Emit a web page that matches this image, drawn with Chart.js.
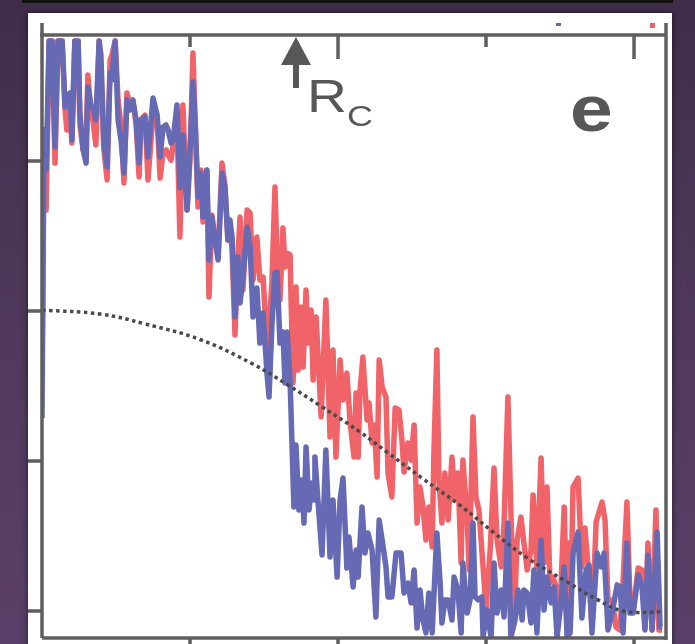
<!DOCTYPE html>
<html>
<head>
<meta charset="utf-8">
<script src="https://cdn.jsdelivr.net/npm/chart.js@4/dist/chart.umd.min.js"></script>
<style>
  html, body { margin: 0; padding: 0; }
  body {
    width: 695px; height: 644px; overflow: hidden; position: relative;
    background: linear-gradient(to bottom, #3f2d49 0%, #4d3759 40%, #5a4068 100%);
    font-family: "Liberation Sans", Arial, sans-serif;
  }
  #topbar { position: absolute; left: 22px; top: 0; width: 651px; height: 3px; background: #121212; }
  #panel {
    position: absolute; left: 28px; top: 13px; width: 644px; height: 640px;
    background: #fff; box-shadow: 0 0 6px rgba(0,0,0,0.55);
  }
  #chart { position: absolute; left: 0; top: 0; }
  .lbl { position: absolute; color: #575757; line-height: 1; white-space: nowrap;
         transform: scaleX(1.2); transform-origin: left top; }
  .mark { position: absolute; }
</style>
</head>
<body>
<div id="topbar"></div>
<div id="panel"></div>
<canvas id="chart" width="695" height="644"></canvas>
<div class="mark" style="left:556px;top:23px;width:5px;height:3px;background:#666ab4"></div>
<div class="mark" style="left:650px;top:23px;width:5px;height:5px;background:#f06268"></div>
<span class="lbl" style="left:307px;top:73px;font-size:46px">R</span>
<span class="lbl" style="left:347px;top:101px;font-size:30px">C</span>
<span class="lbl" style="left:570px;top:77px;font-size:64px;font-weight:bold">e</span>
<script>
// axis ticks (no labels in the picture)
const xTicks = [50, 100, 150, 200];
const yTicks = [0, 50, 100, 150];
const rcX = 85.8;

const redX = [0, 0.7, 1.4, 2.4, 3.4, 4.4, 5.4, 6.8, 7.8, 8.4, 9.5, 10.1, 11.1, 12.2, 12.8, 13.9, 14.9, 15.5, 16.6, 17.2,
  18.2, 19.3, 19.9, 20.9, 22.0, 23.0, 23.6, 24.7, 25.7, 26.7, 27.7, 28.7, 29.7, 30.7, 31.8, 32.8, 33.4, 34.8, 35.8, 37.5,
  38.9, 39.9, 40.9, 41.9, 42.6, 43.6, 44.3, 45.6, 46.6, 47.6, 49.0, 50.0, 51.0, 52.7, 53.7, 54.4, 55.7, 56.4, 57.4, 58.4,
  59.5, 60.8, 61.8, 62.8, 63.5, 64.2, 65.2, 66.2, 66.9, 67.9, 69.3, 70.3, 71.3, 72.6, 73.6, 74.7, 76.0, 76.7, 77.7, 78.7,
  79.4, 80.4, 81.4, 82.1, 82.8, 83.8, 84.8, 85.8, 86.5, 87.5, 88.2, 89.2, 89.9, 90.9, 91.6, 92.6, 94.3, 95.9, 97.3, 98.3,
  99.3, 100.7, 101.7, 103.0, 104.1, 105.4, 106.1, 106.8, 107.4, 108.4, 109.8, 110.5, 111.5, 112.2, 113.2, 113.9, 114.9, 116.2, 116.9, 118.2,
  119.3, 120.6, 121.6, 122.3, 123.6, 124.7, 125.7, 126.7, 127.7, 128.7, 129.7, 130.7, 131.8, 132.4, 133.4, 134.1, 135.1, 136.1, 137.2, 138.5,
  139.5, 140.5, 141.6, 142.2, 143.6, 144.3, 145.6, 146.6, 147.6, 149.0, 150.0, 151.4, 152.7, 153.7, 155.1, 156.1, 157.4, 158.8, 159.5, 160.5,
  161.8, 162.8, 163.9, 165.2, 165.9, 167.2, 168.6, 169.6, 170.6, 171.6, 172.6, 174.0, 175.0, 176.4, 177.4, 178.0, 178.4, 179.4, 181.1, 182.4,
  183.4, 184.5, 185.8, 187.2, 189.2, 190.2, 191.2, 192.6, 193.9, 195.3, 196.3, 197.6, 198.6, 199.7, 201.4, 202.7, 203.7, 204.7, 206.1, 207.4,
  208.4, 209.5];
const redY = [81.3, 158.7, 133.7, 190, 190, 149.3, 190, 190, 167, 160.3, 168.7, 156, 190, 190, 162, 153.7, 155.3, 178.7, 165.3, 163.7,
  155.3, 190, 180.3, 153.7, 143.7, 183.7, 185.3, 190, 170.3, 162, 142.7, 172.7, 168.7, 170.3, 162, 144.7, 163.7, 165.3, 143.7, 165.3,
  163.7, 144.3, 153, 153.7, 152, 150.3, 155.3, 163.7, 124.7, 168.7, 133.7, 150.3, 186, 134.7, 147, 129.7, 147, 104.7, 132, 123.7,
  118.7, 149.3, 142, 123.7, 128.7, 120.3, 92, 118.7, 131.3, 107, 133.7, 132.7, 110.3, 124.7, 110.3, 111.3, 88, 93.7, 110.3, 141.3,
  118, 103.7, 127.7, 114.7, 119.3, 118.7, 76, 108, 80.3, 101.3, 81.3, 107, 89.3, 100.3, 77, 98, 64.7, 103.7, 58, 87,
  51.3, 83.7, 70.3, 79.3, 62.7, 51.3, 72.7, 51.3, 72.7, 84.7, 63.7, 69.3, 56, 62, 44.7, 83.7, 74.7, 71.3, 46, 38,
  67.7, 67, 57, 46.3, 56, 50.3, 62, 29.3, 41.3, 34.7, 23.7, 34.7, 21.3, 52.7, 87, 43.7, 29.3, 46, 30.3, 51.3,
  37, 46, 16, 50.3, 31.3, 13.7, 64.7, 38, 33.7, 14.7, 0.3, 20.3, 47.7, 23.7, 14.7, 29.3, 71.3, 18, -4, 23.7,
  31.3, 22.7, 13.7, 20.3, 38.7, 14.7, 51, 16, 41.3, 9.3, 11.3, 7, 0.3, 34.7, -4, 22.7, -6.3, 41.3, 44.3, 14.7,
  27.7, 14.7, -5.3, 29.7, 36.3, 30.3, 3.7, 3.7, -5.3, -6.3, 10.3, 36.3, 4.7, 0.3, 14.3, 13.7, -5.3, 22.7, -6.3, 33.7,
  -6.3, -6.3];

const blueX = [0, 0.7, 1.4, 2.4, 3.4, 4.4, 5.4, 6.8, 7.8, 8.4, 9.5, 10.1, 11.1, 12.2, 12.8, 13.9, 14.9, 15.5, 16.6, 17.2,
  18.2, 19.3, 19.9, 20.9, 22.0, 23.0, 23.6, 24.7, 25.7, 26.7, 27.7, 28.7, 29.7, 30.7, 31.8, 32.8, 33.4, 34.8, 35.8, 37.5,
  38.9, 39.9, 40.9, 41.9, 42.6, 43.6, 44.3, 45.6, 46.6, 47.6, 49.0, 50.0, 51.0, 51.7, 52.7, 53.7, 54.4, 55.7, 56.4, 57.4,
  58.4, 59.5, 60.8, 61.8, 62.8, 63.5, 64.2, 65.2, 66.2, 66.9, 67.9, 69.3, 70.3, 71.3, 72.6, 73.6, 74.7, 76.0, 76.7, 77.7,
  78.7, 79.4, 80.4, 81.4, 82.1, 82.8, 83.8, 85.1, 85.8, 86.8, 87.8, 88.5, 89.2, 90.2, 91.2, 91.9, 92.2, 93.2, 94.6, 95.9,
  97.3, 98.3, 99.7, 100.7, 101.7, 103.0, 103.7, 105.1, 106.1, 106.8, 108.1, 109.1, 110.1, 111.5, 112.8, 113.9, 114.9, 116.2, 116.9, 118.2,
  119.6, 121.3, 122.3, 123.6, 124.7, 125.7, 126.7, 127.7, 128.7, 129.7, 130.7, 131.8, 133.4, 134.5, 135.1, 136.1, 137.2, 138.5, 139.2, 140.5,
  141.6, 142.2, 143.6, 144.6, 145.6, 146.3, 147.3, 148.6, 149.0, 150.3, 151.7, 152.7, 153.7, 155.1, 156.1, 157.4, 158.4, 159.8, 160.8, 162.2,
  162.8, 163.9, 165.2, 166.2, 167.2, 168.6, 169.6, 170.6, 172.0, 173.0, 174.0, 175.3, 176.4, 177.4, 178.4, 179.4, 181.1, 182.4, 183.8, 184.8,
  185.8, 187.5, 188.9, 189.9, 191.2, 192.6, 194.3, 195.3, 196.3, 197.6, 198.6, 199.7, 201.4, 202.7, 203.7, 204.7, 206.1, 207.8, 208.8, 209.5];
const blueY = [64.3, 160.3, 147, 190, 190, 154.7, 190, 190, 168, 171.3, 172.7, 157, 190, 190, 166, 153.7, 149.3, 174.7, 168, 168,
  163.7, 190, 185.3, 156, 148, 179.3, 177, 190, 163.7, 157, 146, 170.3, 167, 170.3, 163.7, 149.3, 163.7, 164.7, 151.3, 171,
  165.3, 151.3, 161.3, 162, 160.3, 156, 157, 168.7, 141, 158.7, 133.7, 153.7, 176.3, 163.7, 138, 146, 131.3, 147, 117, 131.3,
  123.7, 117, 146, 141.3, 123.7, 130.3, 124.7, 98, 118, 102.7, 111.3, 128, 121.3, 98, 107.7, 89.3, 99.3, 79.3, 71.3, 96,
  112.7, 113, 89.3, 93, 76, 93, 77, 34.7, 55.3, 33.7, 43.7, 29.3, 54.7, 33.7, 42.7, 37, 51.3, 37, 18.7, 53.7,
  18, 37, 11.3, 37, 44.3, 14.3, 24.7, 8, 20.3, 11.3, 34.7, 19.3, 26, 20.3, -2, 30.3, 23.7, 14.7, 4.7, 4.7,
  19.3, 19.3, 6, 9.3, 2.7, 13.7, -5.7, 7, -3, -7.3, 6, -7.3, 26, 9.3, -4, 3.7, 3.7, -3, 11.3, 7,
  -7.3, 16, -0.7, 3.7, 29.3, 4.7, 3.7, 4.7, -8.7, 0.3, -8.7, 16, -0.7, 7, -2, 29.3, -8.7, -3, 7, -3,
  7, 6, -4, 13.7, -7.3, 23.7, 0.3, 11.3, 2.7, 8, -8.7, 2.7, 14.7, -8.7, -7.3, 19.3, 26.3, -2.3, 13.7, 15.3,
  -7.3, 19.3, 14.7, 19.3, -6.3, -0.7, 8.7, 8, -7.3, 22.7, -0.7, -0.7, 12, 8, -6.3, 18.7, -6.3, 26.3, -5.3, -5.3];

// dotted model curve
const modelX = [0, 19.6, 34.8, 53.4, 70.9, 82.8, 93.9, 107.4, 116.9, 128.4, 141.9, 152.4, 163.9, 177.4, 187.8, 196.3, 210.1];
const modelY = [100.3, 99, 95.7, 90.5, 82.5, 75.5, 68.5, 59.7, 52.7, 44.3, 34.7, 26.3, 17.7, 9.7, 3.7, 0, -0.3];

const toPoints = (xs, ys) => xs.map((v, i) => ({ x: v, y: ys[i] }));

const frame = {
  id: "frame",
  afterDatasetsDraw(chart) {
    const { ctx, chartArea: a, scales: { x, y } } = chart;
    ctx.save();
    ctx.strokeStyle = "#5f5f5f";
    ctx.lineWidth = 3.5;
    ctx.beginPath();
    // side spines stick up past the top line
    ctx.moveTo(a.left, a.top - 12); ctx.lineTo(a.left, a.bottom);
    ctx.moveTo(a.right, a.top - 12); ctx.lineTo(a.right, a.bottom + 2);
    ctx.moveTo(a.left - 2, a.top); ctx.lineTo(a.right, a.top);
    ctx.moveTo(a.left, a.bottom); ctx.lineTo(a.right, a.bottom);
    xTicks.forEach((v, i) => {
      const px = x.getPixelForValue(v);
      ctx.moveTo(px, a.top); ctx.lineTo(px, a.top + (i % 2 ? 24 : 12));
      ctx.moveTo(px, a.bottom); ctx.lineTo(px, a.bottom + 10);
    });
    yTicks.forEach(v => {
      const py = y.getPixelForValue(v);
      ctx.moveTo(a.left - 14, py); ctx.lineTo(a.left, py);
    });
    ctx.stroke();

    // R_c arrow
    const ax = x.getPixelForValue(rcX);
    ctx.fillStyle = "#575757";
    ctx.beginPath();
    ctx.moveTo(ax, a.top + 2);
    ctx.lineTo(ax - 15, a.top + 30);
    ctx.lineTo(ax + 15, a.top + 30);
    ctx.closePath();
    ctx.fill();
    ctx.fillRect(ax - 3, a.top + 28, 6, 25);
    ctx.restore();
  }
};

new Chart(document.getElementById("chart"), {
  type: "line",
  data: {
    datasets: [
      {
        data: toPoints(modelX, modelY),
        borderColor: "#4a4a4a",
        borderWidth: 3.5,
        borderDash: [3.5, 3.5],
        tension: 0.4,
        pointRadius: 0,
        order: 0
      },
      {
        data: toPoints(blueX, blueY),
        borderColor: "rgb(102,106,180)",
        borderWidth: 5.5,
        borderJoinStyle: "round",
        pointRadius: 0,
        tension: 0,
        order: 1
      },
      {
        data: toPoints(redX, redY),
        borderColor: "rgb(240,99,104)",
        borderWidth: 5.5,
        borderJoinStyle: "round",
        pointRadius: 0,
        tension: 0,
        order: 2
      }
    ]
  },
  options: {
    responsive: false,
    animation: false,
    devicePixelRatio: 1,
    layout: { padding: { left: 42, top: 35, right: 29, bottom: 6 } },
    scales: {
      x: { type: "linear", min: 0, max: 210.8, display: false },
      y: { min: -9, max: 192, display: false }
    },
    plugins: { legend: { display: false }, tooltip: { enabled: false } }
  },
  plugins: [frame]
});
</script>
</body>
</html>
